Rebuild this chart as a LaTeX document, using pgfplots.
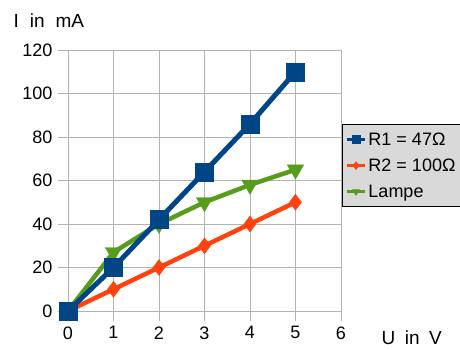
\documentclass[border=0pt]{standalone}
\usepackage{fontspec}
\setmainfont{Liberation Sans}
\usepackage{pgfplots}
\pgfplotsset{compat=1.18}

\definecolor{serA}{HTML}{004586}
\definecolor{serB}{HTML}{FF420E}
\definecolor{serC}{HTML}{579D1C}
\definecolor{gridc}{HTML}{B3B3B3}
\definecolor{legbg}{HTML}{D9D9D9}

\begin{document}
\begin{tikzpicture}
\begin{axis}[
  name=ax,
  scale only axis, width=273pt, height=261pt,
  xmin=0, xmax=6, ymin=0, ymax=120,
  xtick={0,1,...,6}, ytick={0,20,...,120},
  grid=major, grid style={gridc, line width=0.8pt},
  axis line style={draw=none},
  tick align=outside, tick pos=left, major tick length=10pt,
  tick style={gridc, line width=0.8pt},
  font=\fontsize{18}{21}\selectfont,
  /pgf/number format/assume math mode=true,
  clip=false,
  xticklabel style={yshift=-2pt},
  yticklabel style={xshift=-2pt},
  xlabel={U\hspace{0.22em} in\hspace{0.22em} V},
  ylabel={I\hspace{0.3em} in\hspace{0.3em} mA},
  label style={font=\fontsize{19}{22}\selectfont},
  x label style={at={(axis description cs:1.136,-0.13)}, anchor=base west},
  y label style={at={(axis description cs:-0.212,1.088)}, rotate=-90, anchor=base west},
  reverse legend,
  legend cell align=left,
  legend style={
    at={(axis description cs:1.004,0.716)}, anchor=north west,
    fill=legbg, draw=black, line width=0.8pt,
    font=\fontsize{18}{21}\selectfont,
    row sep=8pt, inner xsep=3pt, inner ysep=6pt,
  },
  legend image code/.code={
    \draw[#1, mark=none, line width=3pt] (0pt,0pt) -- (18pt,0pt);
    \draw[#1, only marks, mark size=4pt] plot coordinates {(9pt,0pt)};
  },
]
% lamp characteristic
\addplot[serC, line width=4.5pt,
  mark=triangle*, mark size=9.5pt,
  mark options={rotate=180, fill=serC, draw=serC, line width=0.4pt}]
  coordinates {(0,0) (1,27) (2,40) (3,50) (4,58) (5,65)};
\addlegendentry{Lampe}
% resistor 100 Ohm
\addplot[serB, line width=4.5pt,
  mark=diamond*, mark size=8pt,
  mark options={fill=serB, draw=serB, line width=0.4pt}]
  coordinates {(0,0) (1,10) (2,20) (3,30) (4,40) (5,50)};
\addlegendentry{R2 = 100Ω\hspace*{12pt}}
% resistor 47 Ohm
\addplot[serA, line width=5pt,
  mark=square*, mark size=9pt,
  mark options={fill=serA, draw=serA, line width=0.4pt}]
  coordinates {(0,0) (1,20) (2,42) (3,64) (4,86) (5,110)};
\addlegendentry{R1 = 47Ω}
\end{axis}
\pgfresetboundingbox
\path[use as bounding box] ([shift={(-68pt,-38pt)}]ax.south west)
  rectangle ([shift={(392pt,311pt)}]ax.south west);
\end{tikzpicture}
\end{document}
